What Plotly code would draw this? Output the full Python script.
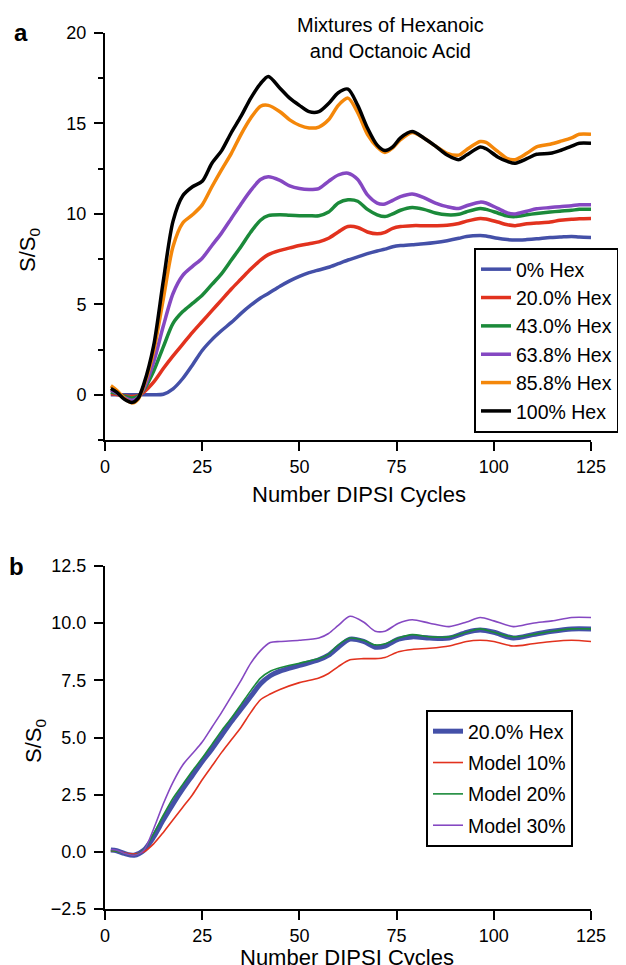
import plotly.graph_objects as go

# ---- data ----
cycles_a = [1.5, 3, 5, 7, 8.5, 10, 12.5, 15, 17.5, 20, 22.5, 25, 27.5, 30, 32.5, 35, 37.5,
            40, 42, 45, 47.5, 50, 52.5, 55, 57.5, 60, 62.5, 65, 67.5, 70, 72, 74, 76, 79,
            82, 85, 88, 91, 93, 96.5, 98, 101, 103.5, 105.5, 108.5, 111, 114.5, 117, 120,
            122, 125]

hex_0 = [0.0, 0.0, 0.0, 0.0, 0.0, 0.0, 0.0, 0.03, 0.33, 0.9, 1.65, 2.45, 3.05, 3.55, 4.0,
         4.5, 4.95, 5.35, 5.6, 6.0, 6.3, 6.55, 6.75, 6.9, 7.05, 7.25, 7.45, 7.62, 7.8, 7.95,
         8.05, 8.18, 8.25, 8.3, 8.35, 8.42, 8.52, 8.65, 8.75, 8.8, 8.78, 8.65, 8.58, 8.55,
         8.58, 8.62, 8.7, 8.72, 8.75, 8.72, 8.7]
hex_20 = [0.05, 0.02, -0.05, -0.1, -0.05, 0.15, 0.7, 1.45, 2.15, 2.8, 3.45, 4.05, 4.65, 5.25,
          5.85, 6.4, 6.95, 7.45, 7.75, 7.98, 8.12, 8.25, 8.35, 8.45, 8.65, 9.0, 9.3, 9.25,
          9.0, 8.9, 8.98, 9.2, 9.3, 9.35, 9.35, 9.35, 9.37, 9.47, 9.6, 9.75, 9.72, 9.55, 9.4,
          9.35, 9.45, 9.5, 9.55, 9.65, 9.7, 9.73, 9.75]
hex_43 = [0.15, 0.08, -0.08, -0.18, -0.08, 0.28, 1.3, 2.65, 3.95, 4.6, 5.05, 5.5, 6.1, 6.7,
          7.45, 8.2, 9.0, 9.65, 9.9, 9.95, 9.92, 9.9, 9.9, 9.9, 10.1, 10.6, 10.78, 10.7,
          10.25, 9.95, 9.85, 10.0, 10.2, 10.35, 10.25, 10.05, 9.95, 9.98, 10.12, 10.3, 10.25,
          10.05, 9.88, 9.85, 9.95, 10.02, 10.1, 10.15, 10.2, 10.25, 10.25]
hex_638 = [0.25, 0.1, -0.15, -0.3, -0.15, 0.35, 1.8, 3.8, 5.6, 6.6, 7.1, 7.55, 8.25, 8.95,
           9.75, 10.55, 11.3, 11.9, 12.05, 11.85, 11.55, 11.4, 11.35, 11.4, 11.8, 12.15,
           12.25, 11.9, 11.05, 10.6, 10.55, 10.75, 10.95, 11.1, 10.9, 10.6, 10.4, 10.3,
           10.45, 10.65, 10.6, 10.3, 10.05, 10.0, 10.15, 10.28, 10.35, 10.4, 10.45, 10.5, 10.5]
hex_858 = [0.5, 0.25, -0.2, -0.45, -0.25, 0.5, 2.4, 5.3, 8.2, 9.5, 9.95, 10.5, 11.5, 12.45,
           13.35, 14.4, 15.3, 15.95, 16.0, 15.65, 15.2, 14.9, 14.75, 14.8, 15.2, 16.0, 16.4,
           15.6, 14.4, 13.7, 13.4, 13.65, 14.1, 14.5, 14.2, 13.75, 13.35, 13.25, 13.55, 14.0,
           13.95, 13.45, 13.05, 13.0, 13.35, 13.7, 13.85, 14.0, 14.2, 14.4, 14.4]
hex_100 = [0.35, 0.15, -0.25, -0.42, -0.2, 0.6, 2.7, 6.3, 9.6, 11.0, 11.5, 11.8, 12.8, 13.5,
           14.5, 15.4, 16.4, 17.2, 17.6, 16.95, 16.4, 16.0, 15.65, 15.65, 16.1, 16.7, 16.9,
           16.0, 14.75, 13.8, 13.5, 13.7, 14.2, 14.55, 14.2, 13.75, 13.25, 13.0, 13.25, 13.7,
           13.6, 13.15, 12.9, 12.8, 13.05, 13.3, 13.35, 13.5, 13.75, 13.9, 13.9]

cycles_b = [1.5, 3, 5, 7.5, 10, 12.5, 15, 17.5, 20, 22.5, 25, 27.5, 30, 32.5, 35, 37.5, 40,
            42.5, 45, 50, 55, 57.5, 60, 63, 66.5, 69.5, 72, 75.5, 79, 83.5, 88.5, 93, 96.5,
            100, 105, 110, 115, 120, 125]

meas_20 = [0.08, 0.05, -0.07, -0.15, 0.07, 0.65, 1.4, 2.1, 2.75, 3.35, 3.95, 4.5, 5.1, 5.7,
           6.25, 6.8, 7.35, 7.7, 7.9, 8.15, 8.4, 8.6, 8.95, 9.3, 9.2, 8.95, 9.0, 9.3, 9.4,
           9.35, 9.35, 9.6, 9.7, 9.6, 9.35, 9.5, 9.65, 9.75, 9.75]
model_10 = [0.05, 0.03, -0.05, -0.1, 0.0, 0.35, 0.85, 1.4, 1.95, 2.5, 3.15, 3.75, 4.35, 4.9,
            5.45, 6.1, 6.65, 6.9, 7.1, 7.4, 7.6, 7.8, 8.1, 8.4, 8.45, 8.45, 8.5, 8.75, 8.85,
            8.9, 9.0, 9.2, 9.25, 9.2, 9.0, 9.1, 9.2, 9.25, 9.2]
model_20 = [0.05, 0.03, -0.07, -0.15, 0.1, 0.8, 1.6, 2.35, 2.95, 3.55, 4.1, 4.7, 5.3, 5.85,
            6.45, 7.05, 7.6, 7.9, 8.05, 8.25, 8.45, 8.65, 9.05, 9.35, 9.25, 9.05, 9.1, 9.35,
            9.5, 9.4, 9.4, 9.6, 9.75, 9.6, 9.4, 9.5, 9.65, 9.75, 9.75]
model_30 = [0.1, 0.07, -0.07, -0.15, 0.07, 1.0, 2.1, 3.05, 3.8, 4.3, 4.8, 5.45, 6.1, 6.8,
            7.5, 8.25, 8.8, 9.15, 9.2, 9.25, 9.35, 9.55, 9.9, 10.3, 10.05, 9.65, 9.65, 10.0,
            10.15, 10.0, 9.85, 10.05, 10.25, 10.1, 9.85, 10.0, 10.1, 10.25, 10.25]

BLUE = "#4450a8"
RED = "#e2321e"
GREEN = "#1b8a3a"
PURPLE = "#8548c2"
ORANGE = "#f4870a"
BLACK = "#000000"
FONT = "Liberation Sans, Arial, sans-serif"

# the page puts the plot 8px in from the top-left corner (body margin)
PAGE_W, PAGE_H, OFF = 626, 965, 8
W, H = PAGE_W - OFF, PAGE_H - OFF

fig = go.Figure()

top = [("0% Hex", hex_0, BLUE), ("20.0% Hex", hex_20, RED), ("43.0% Hex", hex_43, GREEN),
       ("63.8% Hex", hex_638, PURPLE), ("85.8% Hex", hex_858, ORANGE),
       ("100% Hex", hex_100, BLACK)]
for name, ys, col in top:
    fig.add_trace(go.Scatter(x=cycles_a, y=ys, name=name, mode="lines",
                             line=dict(color=col, width=3.5, shape="spline", smoothing=0.8),
                             legendgroup=name, xaxis="x", yaxis="y", legend="legend"))

bottom = [("20.0% Hex", meas_20, BLUE, 5), ("Model 10%", model_10, RED, 1.6),
          ("Model 20%", model_20, GREEN, 1.6), ("Model 30%", model_30, PURPLE, 1.6)]
for name, ys, col, w in bottom:
    fig.add_trace(go.Scatter(x=cycles_b, y=ys, name=name, mode="lines",
                             line=dict(color=col, width=w, shape="spline", smoothing=0.8),
                             legendgroup="b" + name, xaxis="x2", yaxis="y2", legend="legend2"))


def px_x(p):
    """Page pixel (from left) -> paper fraction."""
    return (p - OFF) / W


def px_y(p):
    """Page pixel (from top) -> paper fraction."""
    return 1 - (p - OFF) / H


axis_common = dict(showline=True, linecolor="black", linewidth=2, ticks="outside",
                   ticklen=9, tickwidth=2, tickcolor="black", showgrid=False,
                   zeroline=False, automargin=False, tickfont=dict(size=18, color="black"))

fig.update_layout(
    width=W, height=H, paper_bgcolor="white", plot_bgcolor="white",
    font=dict(family=FONT, color="black"),
    margin=dict(l=0, r=0, t=0, b=0, autoexpand=False),
    xaxis=dict(domain=[px_x(105), px_x(591)], range=[0, 125], anchor="y",
               tickvals=[0, 25, 50, 75, 100, 125], **axis_common),
    yaxis=dict(domain=[px_y(440), px_y(33)], range=[-2.5, 20], anchor="x",
               tickvals=[0, 5, 10, 15, 20], ticklabelstandoff=4,
               minor=dict(tickvals=[-2.5, 2.5, 7.5, 12.5, 17.5], ticks="outside",
                          ticklen=5, tickwidth=2, tickcolor="black"),
               **axis_common),
    xaxis2=dict(domain=[px_x(105), px_x(591)], range=[0, 125], anchor="y2",
                tickvals=[0, 25, 50, 75, 100, 125], **axis_common),
    yaxis2=dict(domain=[px_y(909), px_y(566)], range=[-2.5, 12.5], anchor="x2",
                tickvals=[-2.5, 0, 2.5, 5, 7.5, 10, 12.5], tickformat=".1f",
                ticklabelstandoff=4, **axis_common),
    legend=dict(x=px_x(474), y=px_y(248), xanchor="left", yanchor="top",
                bordercolor="black", borderwidth=2, bgcolor="white",
                font=dict(size=19.5), tracegroupgap=0),
    legend2=dict(x=px_x(426), y=px_y(710), xanchor="left", yanchor="top",
                 bordercolor="black", borderwidth=2, bgcolor="white",
                 font=dict(size=19.5), tracegroupgap=3),
)

ann = [
    dict(text="<b>a</b>", x=px_x(12), y=px_y(33), xanchor="left", yanchor="middle",
         font=dict(size=24)),
    dict(text="<b>b</b>", x=px_x(7), y=px_y(566), xanchor="left", yanchor="middle",
         font=dict(size=24)),
    dict(text="Mixtures of Hexanoic<br>and Octanoic Acid", x=px_x(390), y=px_y(12),
         xanchor="center", yanchor="top", font=dict(size=20)),
    dict(text="Number DIPSI Cycles", x=px_x(359), y=px_y(494), xanchor="center",
         yanchor="middle", font=dict(size=22)),
    dict(text="Number DIPSI Cycles", x=px_x(347), y=px_y(957), xanchor="center",
         yanchor="middle", font=dict(size=22)),
    dict(text="S/S<sub>0</sub>", x=px_x(29), y=px_y(250), textangle=-90,
         xanchor="center", yanchor="middle", font=dict(size=22)),
    dict(text="S/S<sub>0</sub>", x=px_x(35), y=px_y(741), textangle=-90,
         xanchor="center", yanchor="middle", font=dict(size=22)),
]
for a in ann:
    fig.add_annotation(xref="paper", yref="paper", showarrow=False, **a)

fig.write_html("out.html")
